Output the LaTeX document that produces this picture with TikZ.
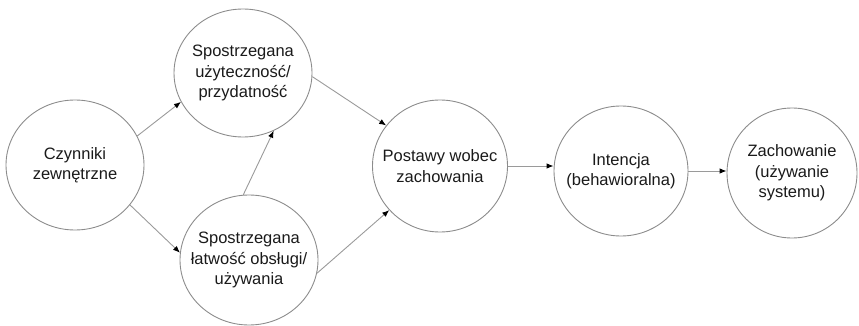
\documentclass[tikz,border=0pt]{standalone}
\usepackage{fontspec}
\setmainfont{Liberation Sans}
\usetikzlibrary{shapes.geometric,arrows.meta}
\definecolor{lineg}{HTML}{9A9A9A}
\definecolor{circg}{HTML}{8C8C8C}
\definecolor{txt}{HTML}{1A1A1A}
\begin{document}
\begin{tikzpicture}[x=1pt,y=-1pt,
  bub/.style={ellipse,draw=circg,line width=0.9pt,inner xsep=-30pt,inner ysep=-20pt,
    minimum width=#1,minimum height=130pt,align=center,text=txt,
    font=\fontsize{16.5pt}{20.5pt}\selectfont},
  bub/.default=138pt,
  conn/.style={draw=lineg,line width=0.9pt,
    -{Latex[length=7pt,width=5.5pt,color=black]}}]
\useasboundingbox (0,0) rectangle (859,326);
\node[bub] (cz) at (75,165) {Czynniki\\zewnętrzne};
\node[bub=138pt,minimum height=128pt] (pu) at (243,73) {Spostrzegana\\użyteczność/\\przydatność};
\node[bub] (pl) at (249,260) {Spostrzegana\\łatwość obsługi/\\używania};
\node[bub=135pt,minimum height=132pt] (po) at (440,166) {Postawy wobec\\zachowania};
\node[bub=134pt] (in) at (621,171) {Intencja\\(behawioralna)};
\node[bub=130pt] (za) at (792,173) {Zachowanie\\(używanie\\systemu)};
\draw[conn] (cz.25) -- (pu.205);
\draw[conn] (cz.-36) -- (pl.174);
\draw[conn] (pl.95) -- (pu.-62);
\draw[conn] (pu.-3) -- (po.143);
\draw[conn] (pl.-11) -- (po.221);
\draw[conn] (po.east) -- (po.east -| in.west);
\draw[conn] (in.east) -- (in.east -| za.west);
\end{tikzpicture}
\end{document}
